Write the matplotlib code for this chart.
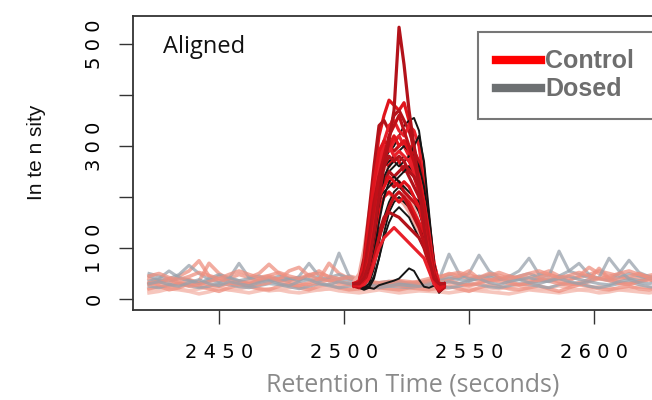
import numpy as np
import matplotlib
matplotlib.use("Agg")
from matplotlib import pyplot as plt
from matplotlib.lines import Line2D

# baseline noise, every 4 s from 2422 to 2630
base_t = list(range(2422, 2631, 4))
base_grey = [
    [50, 45, 40, 48, 66, 50, 38, 32, 40, 70, 42, 35, 38, 45, 40, 36, 48, 40, 38, 90,
     45, 35, 30, 32, 35, 30, 28, 32, 35, 38, 88, 50, 40, 45, 42, 38, 44, 55, 80, 48,
     45, 94, 55, 48, 42, 40, 38, 50, 76, 52, 44, 40, 42],
    [35, 40, 55, 42, 38, 30, 35, 45, 40, 36, 30, 34, 42, 38, 35, 44, 70, 45, 35, 40,
     36, 32, 30, 28, 30, 34, 30, 28, 30, 36, 45, 40, 50, 86, 55, 42, 38, 45, 50, 42,
     38, 45, 55, 70, 48, 40, 36, 42, 50, 45, 40, 38, 44],
    [25, 22, 28, 30, 26, 22, 25, 30, 28, 24, 22, 26, 30, 28, 24, 20, 25, 30, 26, 22,
     25, 28, 24, 22, 25, 24, 22, 25, 28, 26, 22, 25, 30, 28, 24, 22, 26, 30, 28, 25,
     22, 28, 32, 30, 25, 22, 26, 30, 34, 28, 24, 22, 26],
    [45, 38, 35, 40, 36, 30, 40, 48, 42, 36, 40, 45, 38, 34, 40, 42, 38, 35, 42, 48,
     40, 35, 30, 28, 30, 32, 30, 28, 32, 36, 40, 38, 35, 42, 48, 40, 35, 38, 42, 36,
     34, 40, 45, 38, 35, 42, 80, 55, 40, 36, 40, 42, 38],
    [30, 34, 28, 25, 32, 38, 30, 26, 34, 30, 26, 32, 36, 30, 26, 34, 38, 30, 28, 34,
     30, 28, 26, 25, 26, 28, 26, 25, 28, 30, 34, 30, 36, 40, 32, 28, 34, 38, 32, 30,
     36, 40, 34, 30, 34, 30, 28, 34, 38, 32, 30, 34, 36],
]
base_salmon = [
    [40, 35, 30, 45, 55, 75, 45, 35, 40, 48, 42, 50, 68, 50, 40, 38, 45, 55, 42, 38,
     45, 40, 35, 30, 32, 35, 30, 35, 40, 42, 50, 45, 40, 38, 45, 52, 45, 40, 42, 48,
     55, 45, 40, 42, 48, 55, 50, 45, 40, 42, 46, 50, 44],
    [20, 25, 18, 22, 30, 25, 20, 15, 22, 28, 25, 20, 18, 25, 30, 22, 18, 25, 28, 22,
     18, 20, 25, 22, 20, 18, 22, 20, 18, 22, 25, 20, 15, 22, 28, 25, 20, 18, 22, 26,
     20, 15, 22, 28, 25, 20, 18, 22, 25, 20, 18, 22, 25],
    [30, 35, 40, 32, 28, 35, 70, 50, 38, 32, 35, 40, 45, 38, 55, 62, 45, 38, 70, 50,
     40, 35, 32, 30, 28, 30, 32, 30, 35, 40, 38, 45, 55, 40, 35, 38, 45, 40, 35, 42,
     48, 40, 36, 45, 62, 50, 42, 38, 44, 50, 42, 38, 45],
    [32, 28, 25, 30, 38, 32, 28, 25, 30, 35, 30, 28, 32, 40, 35, 30, 28, 32, 38, 34,
     30, 28, 26, 25, 28, 30, 28, 26, 30, 35, 32, 30, 28, 32, 38, 34, 30, 28, 32, 38,
     35, 30, 28, 32, 38, 60, 40, 32, 30, 35, 38, 34, 30],
    [28, 32, 38, 30, 25, 28, 34, 40, 32, 28, 30, 36, 42, 34, 28, 26, 32, 40, 36, 30,
     28, 26, 24, 26, 28, 26, 24, 26, 28, 32, 36, 30, 26, 30, 36, 42, 34, 28, 30, 36,
     40, 34, 30, 28, 34, 40, 36, 30, 28, 34, 38, 32, 28],
    [45, 50, 42, 38, 44, 52, 46, 40, 48, 55, 48, 42, 46, 52, 45, 40, 48, 50, 44, 40,
     42, 38, 34, 32, 34, 36, 34, 32, 36, 44, 48, 52, 46, 42, 50, 46, 40, 44, 50, 55,
     48, 42, 46, 52, 45, 40, 44, 50, 55, 48, 42, 46, 50],
]
base_pink = [
    [12, 15, 20, 18, 15, 10, 14, 20, 18, 15, 12, 16, 20, 18, 14, 12, 15, 18, 20, 16,
     14, 12, 15, 18, 15, 12, 14, 16, 15, 14, 12, 15, 18, 16, 14, 12, 10, 14, 18, 16,
     14, 12, 15, 18, 16, 12, 14, 18, 16, 14, 12, 15, 18],
    [18, 22, 25, 20, 16, 20, 24, 22, 18, 20, 24, 20, 16, 18, 22, 26, 22, 18, 20, 24,
     20, 18, 20, 22, 20, 18, 20, 22, 20, 18, 22, 25, 20, 18, 22, 20, 24, 26, 20, 18,
     22, 26, 22, 18, 20, 24, 22, 18, 20, 24, 22, 18, 20],
]

# peak region, every 2 s from 2504 to 2540
peak_t = list(range(2504, 2541, 2))
peak_pale = [
    [35, 50, 100, 170, 220, 250, 260, 250, 240, 230, 220, 200, 180, 150, 110, 70, 40, 30, 30],
    [30, 40, 70, 120, 170, 200, 210, 205, 200, 195, 185, 170, 150, 130, 100, 60, 35, 28, 30],
]
control = [
    [28, 32, 60, 140, 240, 320, 360, 390, 380, 370, 385, 350, 280, 200, 130, 70, 35, 28, 30],
    [30, 35, 80, 170, 260, 340, 350, 330, 360, 370, 350, 330, 300, 250, 180, 110, 50, 30, 30],
    [25, 30, 50, 100, 180, 260, 310, 340, 350, 330, 320, 340, 330, 300, 230, 150, 70, 30, 28],
    [30, 28, 40, 90, 160, 230, 280, 300, 290, 300, 310, 300, 290, 270, 220, 140, 60, 25, 30],
    [30, 30, 45, 110, 190, 250, 270, 260, 280, 270, 250, 260, 240, 210, 160, 100, 45, 25, 30],
    [26, 28, 35, 70, 130, 190, 230, 250, 240, 250, 260, 240, 220, 200, 170, 120, 60, 28, 28],
    [30, 32, 50, 120, 200, 280, 300, 290, 310, 320, 300, 280, 260, 240, 200, 140, 70, 30, 30],
    [28, 30, 40, 80, 150, 210, 240, 230, 220, 230, 210, 200, 190, 180, 150, 110, 60, 25, 28],
    [30, 28, 35, 60, 110, 170, 200, 210, 200, 190, 200, 190, 170, 150, 130, 90, 45, 20, 28],
    [28, 25, 30, 50, 90, 130, 160, 170, 165, 160, 150, 140, 130, 120, 100, 70, 35, 18, 25],
    [30, 35, 60, 130, 210, 270, 290, 300, 280, 290, 280, 270, 250, 230, 190, 130, 60, 30, 30],
    [25, 22, 30, 45, 80, 120, 150, 180, 200, 210, 200, 180, 160, 140, 110, 70, 30, 15, 22],
    [30, 34, 70, 150, 230, 290, 310, 300, 320, 300, 310, 290, 270, 240, 190, 120, 55, 28, 30],
    [28, 30, 55, 120, 190, 240, 260, 280, 270, 280, 270, 250, 240, 220, 180, 110, 50, 25, 28],
    [30, 26, 28, 40, 70, 100, 120, 130, 140, 130, 120, 110, 100, 90, 80, 55, 30, 20, 28],
    [30, 32, 45, 95, 170, 240, 280, 320, 340, 360, 330, 300, 270, 230, 170, 100, 45, 24, 28],
    [26, 28, 38, 75, 140, 200, 220, 240, 230, 220, 230, 220, 200, 180, 140, 90, 40, 20, 26],
    [30, 30, 40, 70, 130, 200, 260, 310, 370, 533, 460, 370, 300, 220, 140, 80, 40, 30, 30],
]
dosed = [
    [30, 28, 35, 70, 140, 220, 270, 290, 300, 320, 340, 350, 355, 330, 260, 160, 70, 30, 30],
    [28, 25, 30, 55, 110, 180, 230, 250, 260, 270, 280, 270, 260, 250, 210, 140, 60, 22, 28],
    [30, 25, 22, 30, 60, 110, 160, 190, 210, 220, 210, 200, 190, 170, 140, 100, 50, 18, 25],
    [28, 25, 20, 25, 45, 80, 120, 150, 170, 180, 170, 160, 140, 120, 100, 70, 35, 15, 22],
    [30, 28, 25, 22, 20, 27, 30, 33, 36, 40, 50, 60, 55, 38, 24, 22, 26, 30, 30],
    [25, 22, 18, 22, 40, 80, 130, 170, 190, 200, 190, 180, 170, 150, 120, 80, 40, 12, 22],
    [30, 28, 40, 90, 170, 240, 260, 270, 280, 290, 300, 290, 280, 260, 220, 150, 70, 25, 30],
    [28, 30, 45, 100, 160, 200, 210, 220, 230, 240, 250, 260, 250, 230, 190, 120, 50, 20, 28],
    [30, 26, 30, 60, 120, 190, 240, 260, 270, 260, 270, 280, 300, 320, 270, 170, 70, 24, 28],
    [28, 24, 26, 45, 90, 150, 200, 230, 240, 230, 220, 210, 200, 190, 160, 110, 50, 18, 25],
]

y_ticks = [0, 100, 200, 300, 400, 500]
y_labels = ["0", "1 0 0", "", "3 0 0", "", "5 0 0"]
x_ticks = [2450, 2500, 2550, 2600]
x_labels = ["2 4 5 0", "2 5 0 0", "2 5 5 0", "2 6 0 0"]

fig = plt.figure(figsize=(6.52, 4.0), dpi=100)
ax = fig.add_axes([0.204, 0.225, 0.816, 0.735])

for vals in base_pink:
    ax.plot(base_t, vals, color="#f5c0b6", lw=2.6, alpha=0.9)
for i in range(max(len(base_grey), len(base_salmon))):
    if i < len(base_salmon):
        ax.plot(base_t, base_salmon[i], color="#ee9080", lw=2.6, alpha=0.75)
    if i < len(base_grey):
        ax.plot(base_t, base_grey[i], color="#98a2ac", lw=2.2, alpha=0.75)

for vals in peak_pale:
    ax.plot(peak_t, vals, color="#f2aaa2", lw=2.2)
reds = ["#e0141c", "#b3121a", "#e8202a", "#c01018"]
for i, vals in enumerate(control):
    ax.plot(peak_t, vals, color=reds[i % 4], lw=2.3)
    if i < len(dosed):
        ax.plot(peak_t, dosed[i], color="#151515", lw=1.4)

ax.set_xlim(2415.6, 2628.4)
ax.set_ylim(-21.6, 555)
ax.set_yticks(y_ticks)
ax.set_yticklabels(y_labels, rotation=90, va="center", fontsize=14, family="DejaVu Sans")
ax.set_xticks(x_ticks)
ax.set_xticklabels(x_labels, fontsize=14, family="DejaVu Sans")
ax.tick_params(axis="both", direction="out", length=10, width=1.0, color="#333333")
ax.tick_params(axis="y", pad=11)
ax.tick_params(axis="x", pad=14)
for side in ["left", "bottom", "top"]:
    ax.spines[side].set_color("#333333")
    ax.spines[side].set_linewidth(1.3)
ax.spines["right"].set_visible(False)

fig.text(163 / 652, 1 - 53 / 400, "Aligned", family="Open Sans", fontsize=17,
         va="baseline", ha="left", color="#111111")
fig.text(37 / 652, 1 - 152 / 400, "In te n sity", family="Liberation Sans", fontsize=15,
         rotation=90, va="center", ha="center", color="#111111")
fig.text(413 / 652, 1 - 392 / 400, "Retention Time (seconds)", family="Open Sans",
         fontsize=18, va="baseline", ha="center", color="#8a8a8a")

handles = [Line2D([0], [0], color="#ff0000", lw=6),
           Line2D([0], [0], color="#6d7072", lw=6)]
leg = ax.legend(handles, ["Control", "Dosed"], loc="upper left",
                bbox_to_anchor=(478 / 652, 1 - 117 / 400, 200 / 652, 85 / 400),
                bbox_transform=fig.transFigure, mode="expand",
                fancybox=False, framealpha=1, edgecolor="#777777",
                prop={"family": "Liberation Sans", "weight": "bold", "size": 18},
                handlelength=1.8, handletextpad=0.2, labelspacing=0.15,
                borderpad=0.7, borderaxespad=0)
leg.get_frame().set_linewidth(1.5)
for t in leg.get_texts():
    t.set_color("#6e6e6e")

fig.savefig("out.png", dpi=100)
